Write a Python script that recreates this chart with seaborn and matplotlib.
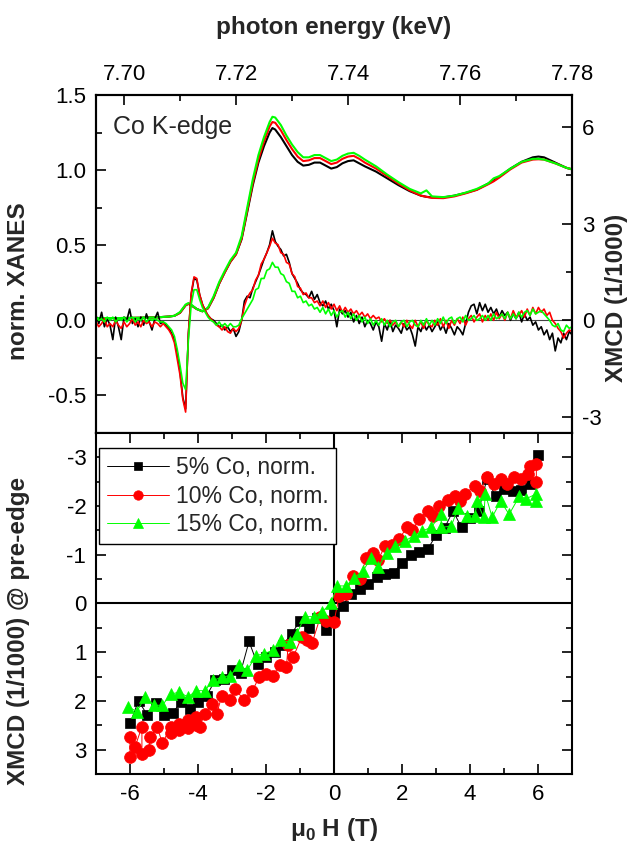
import matplotlib
matplotlib.use('Agg')
import matplotlib.pyplot as plt
import numpy as np
import pandas as pd
import seaborn as sns
from matplotlib.ticker import MultipleLocator, FormatStrFormatter

# XANES, energy offsets in eV above 7.695 keV
xanes_ev = [0, 4, 8, 11, 13, 14, 15, 16, 16.5, 17,
            18, 19, 20, 21, 22, 23, 24, 25, 26, 27,
            28, 29, 30, 31, 31.5, 32, 33, 34, 35, 36,
            37, 38, 39, 40, 41, 42, 43, 44, 45, 46,
            47, 48, 50, 52, 54, 56, 58, 59, 60, 62,
            64, 66, 68, 70, 71, 72, 74, 76, 78, 79,
            80, 82, 84, 85]
xanes_5 = [0.015, 0.015, 0.017, 0.02, 0.025, 0.03, 0.05, 0.10, 0.11, 0.10,
           0.075, 0.06, 0.08, 0.15, 0.245, 0.32, 0.39, 0.44, 0.54, 0.72,
           0.90, 1.05, 1.16, 1.25, 1.28, 1.27, 1.22, 1.16, 1.10, 1.055,
           1.03, 1.035, 1.05, 1.05, 1.03, 1.01, 1.02, 1.045, 1.06, 1.065,
           1.045, 1.025, 0.99, 0.945, 0.90, 0.86, 0.83, 0.822, 0.818, 0.818,
           0.83, 0.848, 0.87, 0.91, 0.93, 0.955, 1.01, 1.055, 1.085, 1.09,
           1.085, 1.05, 1.015, 1.005]
xanes_10 = [0.015, 0.015, 0.017, 0.02, 0.025, 0.03, 0.05, 0.10, 0.11, 0.10,
            0.075, 0.06, 0.08, 0.15, 0.245, 0.32, 0.39, 0.44, 0.545, 0.73,
            0.915, 1.07, 1.19, 1.29, 1.32, 1.315, 1.265, 1.20, 1.14, 1.09,
            1.06, 1.065, 1.08, 1.08, 1.06, 1.04, 1.05, 1.075, 1.09, 1.095,
            1.075, 1.05, 1.01, 0.96, 0.91, 0.865, 0.83, 0.822, 0.815, 0.813,
            0.825, 0.845, 0.868, 0.905, 0.925, 0.95, 1.005, 1.05, 1.07, 1.072,
            1.07, 1.045, 1.015, 1.005]
xanes_15 = [0.015, 0.015, 0.017, 0.02, 0.025, 0.03, 0.055, 0.105, 0.115, 0.105,
            0.075, 0.06, 0.085, 0.16, 0.255, 0.33, 0.40, 0.45, 0.56, 0.75,
            0.94, 1.10, 1.22, 1.32, 1.355, 1.35, 1.30, 1.23, 1.17, 1.12,
            1.085, 1.085, 1.10, 1.10, 1.08, 1.06, 1.07, 1.095, 1.11, 1.115,
            1.095, 1.07, 1.025, 0.97, 0.92, 0.875, 0.845, 0.865, 0.825, 0.82,
            0.83, 0.85, 0.875, 0.91, 0.945, 0.96, 1.01, 1.055, 1.075, 1.075,
            1.07, 1.045, 1.015, 1.005]

# XMCD (1/1000), sampled every 0.5 eV from 7.695 keV
xmcd_5 = [0.15, -0.1, 0.25, -0.2, 0.05, -0.15, -0.6, 0.1, -0.2, -0.6,
          0.1, 0.0, 0.35, -0.1, 0.05, -0.2, 0.1, -0.15, 0.2, -0.05,
          -0.3, 0.05, 0.25, -0.1, -0.05, -0.15, -0.25, -0.4, -0.6, -1.0,
          -1.6, -2.4, -2.75, -0.4, 0.8, 1.3, 1.25, 0.8, 0.5, 0.3,
          0.15, 0.05, 0.0, -0.1, -0.2, -0.15, -0.3, -0.2, -0.35, -0.25,
          -0.5, -0.35, 0.0, 0.6, 0.75, 0.7, 1.0, 1.2, 1.4, 1.65,
          1.9, 2.1, 2.35, 2.78, 2.45, 2.3, 2.2, 2.0, 2.05, 1.8,
          1.45, 1.3, 1.15, 0.95, 0.85, 0.8, 0.7, 0.9, 0.65, 0.8,
          0.55, 0.45, 0.6, 0.35, 0.5, 0.3, -0.2, 0.35, 0.2, 0.3,
          0.1, 0.25, -0.05, 0.15, -0.1, 0.1, -0.2, 0.0, -0.1, -0.3,
          -0.05, -0.2, -0.65, -0.1, -0.3, 0.0, -0.35, -0.15, -0.25, -0.4,
          -0.1, -0.3, -0.2, -0.45, -0.8, -0.2, -0.35, -0.1, -0.3, -0.15,
          -0.35, -0.2, -0.05, -0.3, -0.15, -0.4, -0.1, -0.25, -0.45, -0.2,
          -0.3, -0.45, -0.1, 0.25, 0.45, 0.5, 0.2, 0.55, 0.3, 0.5,
          0.25, 0.4, 0.2, 0.35, 0.1, 0.3, 0.15, 0.25, 0.0, 0.2,
          0.05, 0.25, -0.05, 0.2, 0.0, 0.1, -0.15, -0.05, -0.3, -0.2,
          -0.45, -0.3, -0.6, -0.4, -0.95, -0.55, -0.7, -0.4, -0.6, -0.35,
          -0.45]
xmcd_10 = [-0.05, -0.2, -0.1, 0.05, -0.2, -0.1, -0.2, 0.0, -0.15, -0.25,
           -0.05, -0.2, -0.1, 0.05, -0.15, -0.05, -0.2, 0.0, -0.1, -0.05,
           -0.2, -0.05, -0.1, -0.2, -0.1, -0.2, -0.3, -0.45, -0.7, -1.2,
           -1.7, -2.45, -2.85, -0.4, 0.85, 1.35, 1.3, 0.8, 0.5, 0.3,
           0.15, 0.05, -0.05, -0.15, -0.2, -0.3, -0.2, -0.35, -0.4, -0.25,
           -0.35, -0.25, 0.0, 0.45, 0.7, 0.85, 0.95, 1.25, 1.4, 1.75,
           1.9, 2.1, 2.3, 2.55, 2.4, 2.35, 2.1, 2.05, 1.8, 1.75,
           1.45, 1.35, 1.05, 1.0, 0.8, 0.85, 0.7, 0.7, 0.55, 0.6,
           0.45, 0.6, 0.4, 0.55, 0.35, 0.5, 0.3, 0.45, 0.25, 0.4,
           0.25, 0.35, 0.2, 0.3, 0.15, 0.25, 0.1, 0.2, 0.05, 0.15,
           0.05, 0.1, -0.05, 0.05, -0.1, 0.0, -0.15, -0.05, -0.2, -0.05,
           -0.2, 0.0, -0.15, -0.25, 0.0, -0.2, -0.05, -0.25, 0.0, -0.15,
           -0.2, 0.0, -0.15, 0.05, -0.2, 0.0, -0.25, 0.0, -0.15, 0.05,
           -0.1, 0.1, -0.15, 0.05, 0.15, -0.05, 0.1, 0.2, -0.05, 0.15,
           0.0, 0.2, 0.0, 0.25, 0.05, 0.2, 0.0, 0.25, 0.05, 0.3,
           0.1, 0.15, 0.3, 0.1, 0.35, 0.15, 0.4, 0.2, 0.4, 0.25,
           0.35, 0.15, 0.25, 0.0, -0.1, -0.25, -0.35, -0.55, -0.4, -0.3,
           -0.35]
xmcd_15 = [0.1, 0.0, 0.05, -0.05, 0.1, 0.0, 0.1, -0.05, 0.05, 0.0,
           0.1, -0.05, 0.05, 0.1, -0.05, 0.05, 0.0, 0.1, -0.05, 0.05,
           0.0, 0.05, 0.0, -0.05, -0.05, -0.1, -0.2, -0.3, -0.5, -0.9,
           -1.4, -1.95, -2.15, -0.6, 0.5, 0.95, 0.95, 0.65, 0.4, 0.25,
           0.1, 0.0, -0.05, -0.15, -0.05, -0.2, -0.1, -0.2, -0.1, -0.2,
           -0.2, -0.15, 0.05, 0.2, 0.35, 0.5, 0.65, 0.95, 1.0, 1.3,
           1.3, 1.55, 1.6, 1.8, 1.65, 1.65, 1.45, 1.4, 1.2, 1.15,
           0.9, 0.9, 0.7, 0.75, 0.55, 0.6, 0.45, 0.5, 0.35, 0.4,
           0.25, 0.4, 0.2, 0.35, 0.15, 0.3, 0.1, 0.25, 0.3, 0.1,
           0.25, 0.05, 0.2, 0.0, 0.15, -0.05, 0.1, -0.1, 0.05, -0.15,
           0.0, -0.15, 0.05, -0.15, 0.0, -0.2, -0.05, 0.0, -0.2, -0.05,
           0.0, -0.2, -0.05, 0.0, -0.15, -0.2, 0.0, -0.15, 0.05, -0.15,
           0.0, -0.15, 0.05, -0.1, 0.1, -0.1, 0.05, 0.1, -0.1, 0.05,
           0.1, -0.05, 0.15, 0.0, 0.05, 0.15, 0.0, 0.05, 0.15, 0.0,
           0.15, 0.0, 0.2, 0.05, 0.1, 0.2, 0.05, 0.25, 0.05, 0.2,
           0.05, 0.25, 0.1, 0.25, 0.3, 0.15, 0.35, 0.2, 0.25, 0.3,
           0.2, 0.1, 0.0, -0.15, -0.2, -0.1, -0.3, -0.35, -0.15, -0.25,
           -0.2]

# field dependence at the pre-edge
field_5 = [-6.0, -5.75, -5.5, -5.25, -5.0, -4.75, -4.5, -4.25, -4.0, -3.75,
           -3.5, -3.25, -3.0, -2.75, -2.5, -2.25, -2.0, -1.75, -1.5, -1.25,
           -1.0, -0.75, -0.5, -0.25, 0.0, 0.25, 0.5, 0.75, 1.0, 1.25,
           1.5, 1.75, 2.0, 2.25, 2.5, 2.75, 3.0, 3.25, 3.5, 3.75,
           4.0, 4.25, 4.5, 4.75, 5.0, 5.25, 5.5, 5.75, 6.0]
loop_5 = [2.46, 2.0, 2.28, 2.05, 2.28, 2.25, 2.02, 2.17, 2.02, 1.9,
          1.58, 1.55, 1.36, 1.42, 0.78, 1.25, 1.1, 1.0, 0.85, 0.62,
          0.36, 0.5, 0.3, 0.54, 0.2, 0.05, -0.2, -0.3, -0.4, -0.55,
          -0.6, -0.63, -0.84, -1.0, -1.05, -1.11, -1.4, -1.55, -1.9, -1.56,
          -1.75, -1.9, -2.56, -2.2, -2.35, -2.3, -2.32, -2.45, -3.04]
field_10 = [-6.0, -6.0, -5.85, -5.65, -5.65, -5.45, -5.4, -5.2, -5.05, -4.8,
            -4.8, -4.55, -4.55, -4.3, -4.3, -4.05, -4.05, -3.95, -3.8, -3.6,
            -3.45, -3.3, -3.05, -2.9, -2.65, -2.4, -2.2, -2.0, -1.8, -1.6,
            -1.4, -1.35, -1.2, -0.95, -0.8, -0.65, -0.4, -0.25, 0.0, 0.15,
            0.35, 0.55, 0.75, 0.95, 1.15, 1.3, 1.5, 1.7, 1.9, 2.15,
            2.3, 2.5, 2.75, 2.9, 3.1, 3.35, 3.55, 3.7, 3.85, 4.15,
            4.3, 4.5, 4.7, 4.9, 5.1, 5.3, 5.5, 5.7, 5.75, 5.95, 5.95]
loop_10 = [3.15, 2.74, 2.94, 2.53, 3.08, 3.01, 2.74, 2.53, 2.87, 2.53,
           2.65, 2.47, 2.6, 2.4, 2.55, 2.33, 2.5, 2.53, 2.26, 2.06,
           2.26, 1.9, 1.99, 1.75, 1.99, 1.79, 1.51, 1.45, 1.48, 1.27,
           1.3, 0.86, 1.1, 0.69, 0.75, 0.82, 0.27, 0.35, 0.37, -0.15,
           -0.2, -0.56, -0.5, -0.94, -1.04, -0.9, -1.18, -1.2, -1.32, -1.56,
           -1.5, -1.73, -1.9, -1.8, -2.0, -2.13, -2.2, -2.1, -2.25, -2.42,
           -2.3, -2.6, -2.45, -2.56, -2.45, -2.6, -2.55, -2.65, -2.83, -2.87, -2.5]
field_15 = [-6.05, -5.8, -5.55, -5.3, -5.05, -4.8, -4.55, -4.3, -4.05, -3.8,
            -3.55, -3.3, -3.05, -2.8, -2.55, -2.3, -2.05, -1.8, -1.55, -1.3,
            -1.1, -0.85, -0.6, -0.35, -0.1, 0.1, 0.35, 0.6, 0.85, 1.1,
            1.3, 1.55, 1.8, 2.1, 2.35, 2.6, 2.85, 3.15, 3.15, 3.45,
            3.65, 3.9, 4.15, 4.2, 4.4, 4.45, 4.65, 4.9, 5.15, 5.45,
            5.65, 5.95, 5.95]
loop_15 = [2.12, 2.22, 1.92, 2.09, 2.09, 1.86, 1.82, 1.92, 1.79, 1.79,
           1.58, 1.51, 1.48, 1.27, 1.37, 1.07, 1.03, 0.96, 0.76, 0.79,
           0.62, 0.27, 0.27, 0.17, 0.0, -0.36, -0.36, -0.53, -0.67, -0.94,
           -0.74, -1.04, -1.18, -1.29, -1.39, -1.49, -1.56, -1.83, -1.56, -1.59,
           -1.97, -1.8, -1.8, -2.1, -1.77, -2.25, -1.77, -2.1, -1.83, -2.2,
           -2.15, -2.25, -2.1]

labels = ['5% Co, norm.', '10% Co, norm.', '15% Co, norm.']
colors = ['#000000', '#ff0000', '#00ff00']
markers = ['s', 'o', '^']
msizes = [7.5, 8.5, 9]

sns.set_style('ticks')
plt.rcParams['font.family'] = ['Liberation Sans', 'DejaVu Sans']
plt.rcParams['mathtext.fontset'] = 'custom'
plt.rcParams['mathtext.rm'] = 'Liberation Sans'
plt.rcParams['mathtext.bf'] = 'Liberation Sans:bold'
plt.rcParams['axes.unicode_minus'] = False

fig = plt.figure(figsize=(6.3, 8.48), dpi=100)
ax = fig.add_axes([0.1524, 0.4894, 0.7556, 0.3986])
ax2 = ax.twinx()
axb = fig.add_axes([0.1524, 0.0873, 0.7556, 0.4021])

# ---- top panel: spectra
e_xanes = 7.695 + np.array(xanes_ev) / 1000.0
e_xmcd = 7.695 + np.arange(len(xmcd_5)) * 0.0005
ax.axhline(0, color='#444444', lw=0.8, zorder=1)
for xa, c in zip([xanes_5, xanes_10, xanes_15], colors):
    sns.lineplot(x=e_xanes, y=xa, color=c, lw=1.5, sort=False,
                 estimator=None, ax=ax)
for xm, c in zip([xmcd_5, xmcd_10, xmcd_15], colors):
    sns.lineplot(x=e_xmcd, y=xm, color=c, lw=1.2, sort=False,
                 estimator=None, ax=ax2)

ax.set_xlim(7.695, 7.78)
ax.set_ylim(-0.75, 1.5)
ax2.set_ylim(-3.5, 7.0)
ax.xaxis.set_major_locator(MultipleLocator(0.02))
ax.xaxis.set_minor_locator(MultipleLocator(0.01))
ax.xaxis.set_major_formatter(FormatStrFormatter('%.2f'))
ax.yaxis.set_major_locator(MultipleLocator(0.5))
ax.yaxis.set_minor_locator(MultipleLocator(0.25))
ax.yaxis.set_major_formatter(FormatStrFormatter('%.1f'))
ax2.yaxis.set_major_locator(MultipleLocator(3))
ax2.yaxis.set_minor_locator(MultipleLocator(1.5))
ax.tick_params(axis='x', which='both', bottom=False, top=True,
               labelbottom=False, labeltop=True)
ax.tick_params(axis='y', which='both', left=True, right=False)
ax2.tick_params(axis='y', which='both', right=True, left=False)
ax.xaxis.set_label_position('top')
ax.set_xlabel('photon energy (keV)', fontsize=17.5, fontweight='bold', labelpad=22)
ax.set_ylabel('norm. XANES', fontsize=17.5, fontweight='bold')
ax.yaxis.set_label_coords(-0.138, 0.45)
ax2.set_ylabel('XMCD (1/1000)', fontsize=17.5, fontweight='bold', rotation=90)
ax2.yaxis.set_label_coords(1.07, 0.4)
ax.text(0.036, 0.905, 'Co K-edge', transform=ax.transAxes, fontsize=18,
        ha='left', va='center')

# ---- bottom panel: field dependence
axb.axhline(0, color='black', lw=1.5, zorder=1)
axb.axvline(0, color='black', lw=1.5, zorder=1)
for h, v, c, m, ms, lab in zip([field_5, field_10, field_15],
                               [loop_5, loop_10, loop_15],
                               colors, markers, msizes, labels):
    sns.lineplot(x=h, y=v, color=c, lw=0.7, marker=m, markersize=ms,
                 markeredgecolor=c, markeredgewidth=0.5, sort=False,
                 estimator=None, label=lab, ax=axb)

axb.set_xlim(-7, 7)
axb.set_ylim(3.5, -3.5)
axb.xaxis.set_major_locator(MultipleLocator(2))
axb.xaxis.set_minor_locator(MultipleLocator(1))
axb.yaxis.set_major_locator(MultipleLocator(1))
axb.yaxis.set_minor_locator(MultipleLocator(0.5))
axb.tick_params(axis='both', which='both', top=True, right=True)
axb.set_xlabel('μ$_\\mathbf{0}$ H (T)', fontsize=17.5, fontweight='bold', labelpad=8)
axb.set_ylabel('XMCD (1/1000) @ pre-edge', fontsize=17.5, fontweight='bold')
axb.yaxis.set_label_coords(-0.138, 0.42)
leg = axb.legend(loc='upper left', bbox_to_anchor=(0.006, 0.956),
                 borderaxespad=0, fontsize=16.5, frameon=True, fancybox=False,
                 edgecolor='black', framealpha=1, handlelength=2.7,
                 handletextpad=0.3, labelspacing=0.25, borderpad=0.35,
                 markerscale=0.8)
leg.get_frame().set_linewidth(1.0)

for a in (ax, ax2, axb):
    for s in a.spines.values():
        s.set_linewidth(1.5)
        s.set_color('black')
    a.tick_params(which='both', direction='in', width=1.2, labelsize=16,
                  colors='black')
    a.tick_params(which='major', length=7, pad=7)
    a.tick_params(which='minor', length=4)

fig.savefig('out.png', dpi=100)
